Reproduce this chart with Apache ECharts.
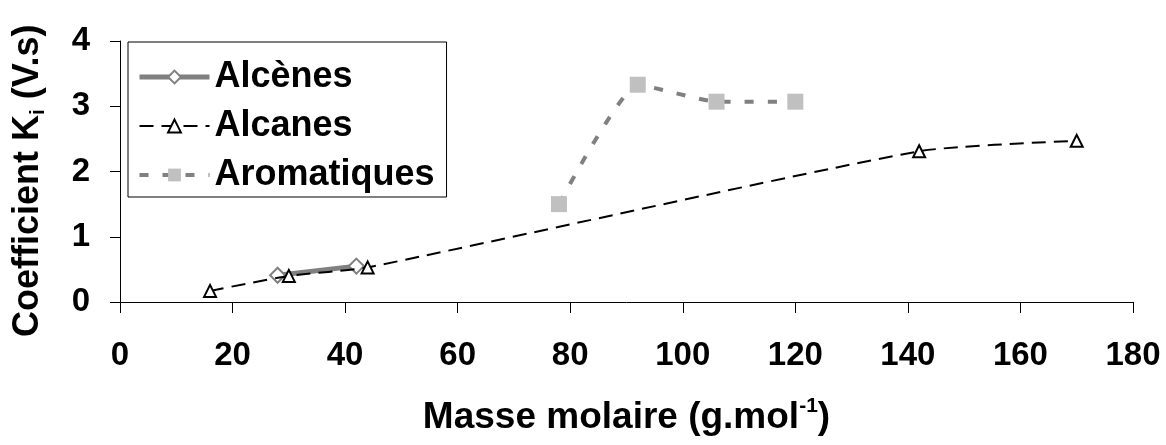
<!DOCTYPE html>
<html>
<head>
<meta charset="utf-8">
<script src="https://cdn.jsdelivr.net/npm/echarts@6/dist/echarts.min.js"></script>
<style>
html,body{margin:0;padding:0;background:#fff;}
#main{width:1166px;height:445px;}
</style>
</head>
<body>
<div id="main"></div>
<script>
const seriesNames = ['Alcènes', 'Alcanes', 'Aromatiques'];
const alcenesX = [28, 42];
const alcenesY = [0.41, 0.55];
const alcanesX = [16, 30, 44, 142, 170];
const alcanesY = [0.17, 0.40, 0.53, 2.31, 2.47];
const aromX = [78, 92, 106, 120];
const aromY = [1.50, 3.33, 3.07, 3.07];
const xTicks = [0, 20, 40, 60, 80, 100, 120, 140, 160, 180];
const yTicks = [0, 1, 2, 3, 4];
const yTitleParts = ['Coefficient K', 'i', ' (V.s)'];
const xTitleParts = ['Masse molaire (g.mol', '-1', ')'];

const pairs = (xs, ys) => xs.map((x, i) => [x, ys[i]]);
const FONT = '"Liberation Sans", Arial, sans-serif';
const yTitle = '{a|' + yTitleParts[0] + '}{s|' + yTitleParts[1] + '}{a|' + yTitleParts[2] + '}';
const xTitle = '{a|' + xTitleParts[0] + '}{s|' + xTitleParts[1] + '}{a|' + xTitleParts[2] + '}';

const chart = echarts.init(document.getElementById('main'), null, {renderer: 'canvas'});
chart.setOption({
  animation: false,
  backgroundColor: '#fff',
  textStyle: {fontFamily: FONT},
  grid: {left: 120, right: 33, top: 41, bottom: 143, containLabel: false},
  legend: {
    orient: 'vertical',
    left: 128, top: 42,
    padding: [17, 12, 4, 9],
    itemGap: 13,
    itemWidth: 70, itemHeight: 16,
    borderColor: '#000', borderWidth: 1,
    backgroundColor: '#fff',
    lineStyle: {width: 'inherit'},
    textStyle: {fontFamily: FONT, fontSize: 36, fontWeight: 'bold', color: '#000'},
    data: seriesNames
  },
  graphic: [{
    type: 'text',
    x: 28, y: 337,
    rotation: Math.PI / 2,
    silent: true,
    style: {
      text: yTitle,
      x: 0, y: 0,
      align: 'left', verticalAlign: 'middle',
      rich: {
        a: {fontSize: 36, fontWeight: 'bold', fill: '#000', fontFamily: FONT, lineHeight: 42},
        s: {fontSize: 21, fontWeight: 'bold', fill: '#000', fontFamily: FONT, lineHeight: 22, verticalAlign: 'bottom'}
      }
    }
  }],
  xAxis: {
    type: 'value',
    min: xTicks[0], max: xTicks[xTicks.length - 1], interval: 20,
    splitLine: {show: false},
    axisLine: {show: true, onZero: false, lineStyle: {color: '#000', width: 1}},
    axisTick: {show: true, inside: false, length: 11, lineStyle: {color: '#000'}},
    axisLabel: {margin: 37, fontSize: 33, fontWeight: 'bold', color: '#000', fontFamily: FONT},
    name: xTitle,
    nameLocation: 'middle',
    nameGap: 94,
    nameTruncate: {maxWidth: 2000},
    nameTextStyle: {
      rich: {
        a: {fontSize: 37, fontWeight: 'bold', color: '#000', fontFamily: FONT, lineHeight: 44},
        s: {fontSize: 21, fontWeight: 'bold', color: '#000', fontFamily: FONT, lineHeight: 22, verticalAlign: 'top'}
      }
    }
  },
  yAxis: {
    type: 'value',
    min: yTicks[0], max: yTicks[yTicks.length - 1], interval: 1,
    splitLine: {show: false},
    axisLine: {show: true, lineStyle: {color: '#000', width: 1}},
    axisTick: {show: true, inside: false, length: 10, lineStyle: {color: '#000'}},
    axisLabel: {margin: 30, fontSize: 33, fontWeight: 'bold', color: '#000', fontFamily: FONT}
  },
  series: [
    {
      name: seriesNames[0], type: 'line',
      data: pairs(alcenesX, alcenesY),
      symbol: 'emptyDiamond', symbolSize: 15,
      lineStyle: {color: '#808080', width: 5, type: 'solid'},
      itemStyle: {color: '#808080', borderColor: '#808080', borderWidth: 2},
      z: 3
    },
    {
      name: seriesNames[1], type: 'line',
      data: pairs(alcanesX, alcanesY),
      smooth: 0.2,
      symbol: 'emptyTriangle', symbolSize: 12,
      lineStyle: {color: '#000', width: 2, type: [14, 8]},
      itemStyle: {color: '#000', borderColor: '#000', borderWidth: 2},
      z: 4
    },
    {
      name: seriesNames[2], type: 'line',
      data: pairs(aromX, aromY),
      smooth: 0.15,
      symbol: 'rect', symbolSize: 16,
      lineStyle: {color: '#808080', width: 4, type: [9, 14]},
      itemStyle: {color: '#c0c0c0', borderWidth: 0},
      z: 2
    }
  ]
});
</script>
</body>
</html>
